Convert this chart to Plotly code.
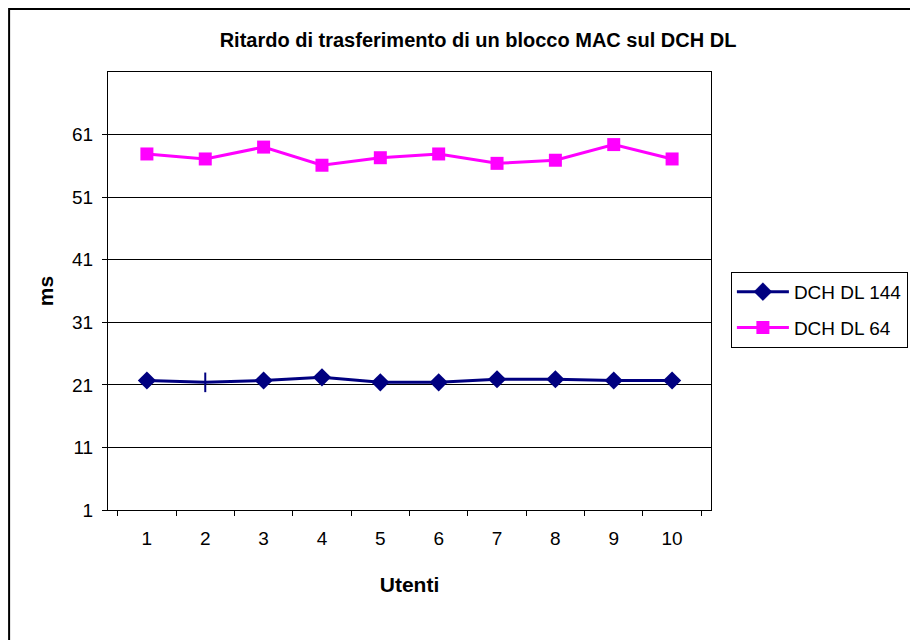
import plotly.graph_objects as go

# data
utenti = ["1", "2", "3", "4", "5", "6", "7", "8", "9", "10"]
dch_dl_144 = [21.7, 21.4, 21.7, 22.2, 21.4, 21.4, 21.9, 21.9, 21.7, 21.7]
dch_dl_64 = [57.9, 57.1, 59.0, 56.1, 57.3, 57.9, 56.4, 56.9, 59.4, 57.1]
y_ticks = [1, 11, 21, 31, 41, 51, 61]

font = "Liberation Sans, Arial, sans-serif"
navy = "#000080"
magenta = "#FF00FF"

fig = go.Figure()

# the second point of this series shows up as a vertical bar in the original
symbols_144 = ["diamond"] * len(utenti)
symbols_144[1] = "line-ns"
line_w_144 = [0] * len(utenti)
line_w_144[1] = 2

fig.add_trace(go.Scatter(
    x=utenti, y=dch_dl_144, name="DCH DL 144", mode="lines+markers",
    legendgroup="a",
    line=dict(color=navy, width=3),
    marker=dict(symbol=symbols_144, size=14, color=navy,
                line=dict(color=navy, width=line_w_144)),
))
fig.add_trace(go.Scatter(
    x=utenti, y=dch_dl_64, name="DCH DL 64", mode="lines+markers",
    legendgroup="b",
    line=dict(color=magenta, width=3),
    marker=dict(symbol="square", size=13, color=magenta),
))

# outer chart frame (runs off the right and bottom edges like the original)
fig.add_shape(type="rect", xref="paper", yref="paper",
              x0=-0.164, x1=1.5, y0=-0.5, y1=1.144,
              line=dict(color="black", width=2), layer="below")

fig.update_layout(
    width=918, height=640,
    margin=dict(l=100, r=215, t=64, b=138),
    paper_bgcolor="white", plot_bgcolor="white",
    font=dict(family=font, color="black", size=18),
    title=dict(text="<b>Ritardo di trasferimento di un blocco MAC sul DCH DL</b>",
               x=0.512, xanchor="center", y=0.95, yanchor="middle",
               font=dict(size=20)),
    legend=dict(x=1.033, y=0.457, xanchor="left", yanchor="middle",
                bordercolor="black", borderwidth=1, bgcolor="white",
                font=dict(size=19), tracegroupgap=8, itemwidth=52),
    xaxis=dict(type="category", tickson="boundaries", ticks="outside",
               ticklen=5, tickcolor="black", showline=True, linecolor="black",
               linewidth=1, mirror=True, showgrid=False,
               ticklabelstandoff=11,
               title=dict(text="<b>Utenti</b>", font=dict(size=21), standoff=29),
               tickfont=dict(size=19)),
    yaxis=dict(range=[1, 71], tickvals=y_ticks, ticks="outside", ticklen=5,
               tickcolor="black", showline=True, linecolor="black",
               linewidth=1, mirror=True, showgrid=True, gridcolor="black",
               gridwidth=1, zeroline=False, ticklabelstandoff=5,
               title=dict(text="<b>ms</b>", font=dict(size=21), standoff=12),
               tickfont=dict(size=19)),
)

fig.write_html("out.html")
